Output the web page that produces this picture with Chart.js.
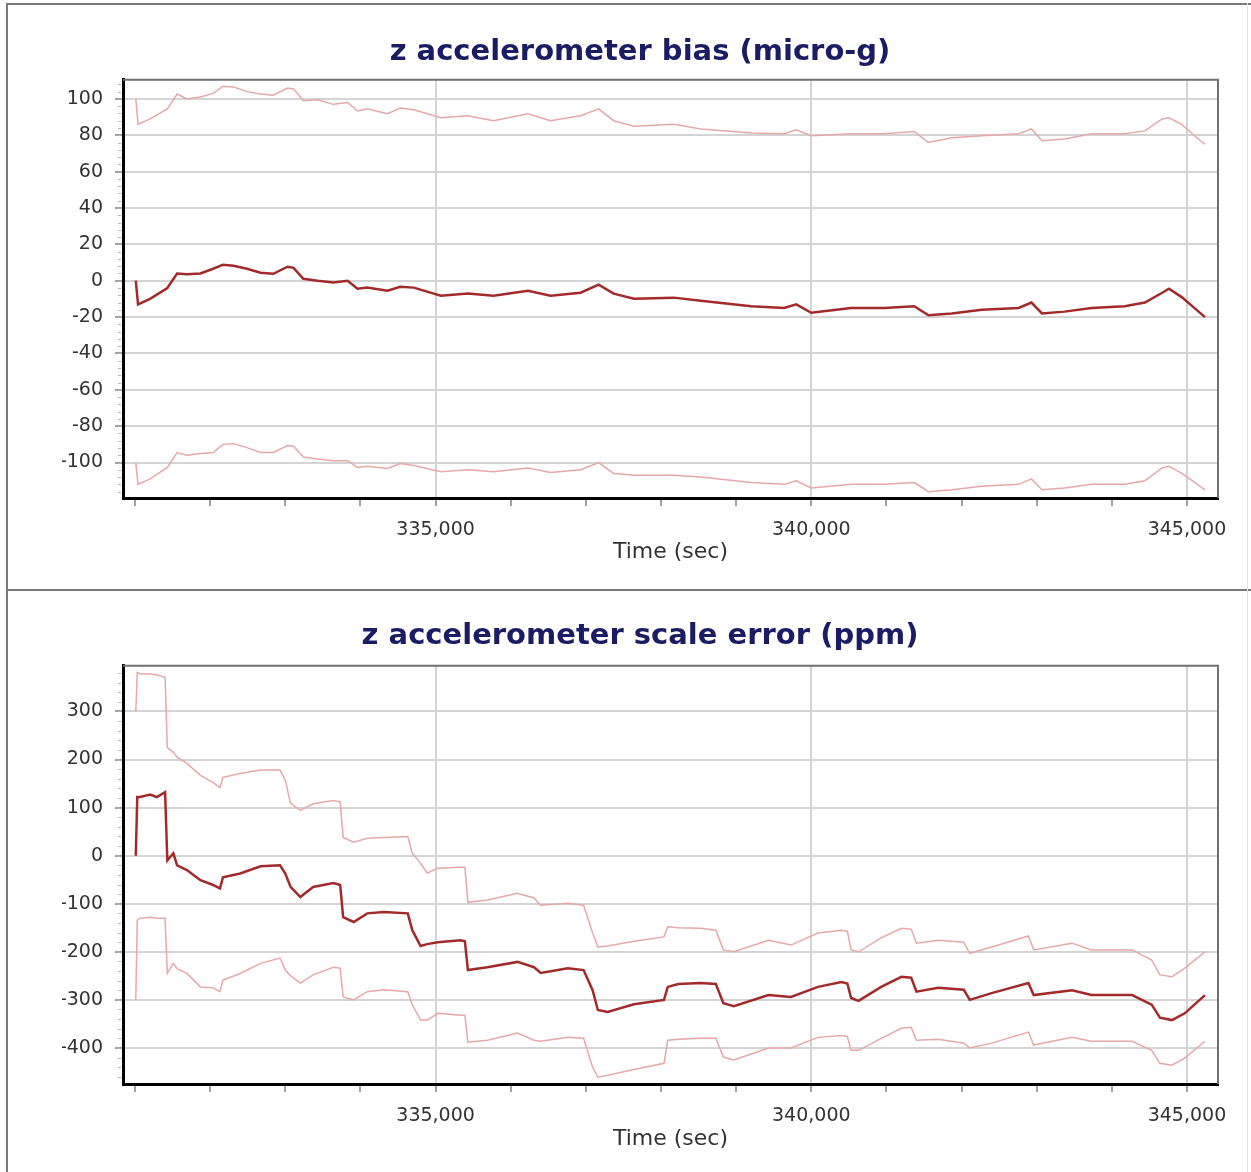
<!DOCTYPE html>
<html>
<head>
<meta charset="utf-8">
<script src="https://cdn.jsdelivr.net/npm/chart.js@4.4.1/dist/chart.umd.min.js"></script>
<style>
    body { margin: 0; background: #fff; }
    #wrap { position: relative; width: 1251px; height: 1172px; overflow: hidden; }
    #wrap canvas { position: absolute; left: 0; }
    .rule { position: absolute; background: #7a7a7a; }
</style>
</head>
<body>
<div id="wrap">
    <canvas id="biasChart" width="1251" height="590" style="top:0"></canvas>
    <canvas id="scaleChart" width="1251" height="580" style="top:592px"></canvas>
    <div class="rule" style="left:6px;top:3px;width:1245px;height:2px"></div>
    <div class="rule" style="left:6px;top:589px;width:1245px;height:2px"></div>
    <div class="rule" style="left:6px;top:3px;width:2px;height:1169px"></div>
    <div class="rule" style="left:1247px;top:3px;width:1px;height:1169px;background:#e4e4e4"></div>
</div>
<script>
// z accelerometer bias (micro-g)
const biasTime = [331010, 331040, 331200, 331430, 331560, 331690, 331870, 332040, 332170, 332310,
    332490, 332670, 332840, 333030, 333110, 333240, 333430, 333640, 333830, 333960,
    334090, 334360, 334530, 334710, 335070, 335430, 335770, 336230, 336530, 336930,
    337170, 337370, 337640, 338170, 338530, 339200, 339640, 339800, 340000, 340530,
    340970, 341370, 341560, 341870, 342270, 342760, 342930, 343070, 343370, 343730,
    344170, 344440, 344670, 344760, 344930, 345070, 345240];
const biasMid = [0, -13, -10, -4, 4, 3.5, 4, 6.6, 8.8, 8.2,
    6.6, 4.4, 3.8, 7.7, 7.1, 1.1, 0, -1, 0, -4.4,
    -3.8, -5.5, -3.3, -3.8, -8.2, -7.1, -8.2, -5.5, -8.2, -6.6,
    -2.2, -7.1, -9.9, -9.3, -11, -14, -15, -13, -17.6, -15,
    -15, -14, -19, -18, -16, -15, -12, -18, -17, -15,
    -14, -12, -6.6, -4.4, -9, -14, -20];
const biasHigh = [100, 86, 89, 94.5, 102.7, 100, 101, 103, 107, 106.6,
    104, 102.7, 102, 106, 105.5, 99, 99.5, 97, 98, 93.4,
    94.5, 91.8, 95, 94, 89.6, 90.7, 88, 91.8, 88, 90.7,
    94.5, 88, 85, 86, 83.5, 81.3, 80.8, 83, 79.7, 80.8,
    80.8, 82, 76, 78.6, 79.7, 80.8, 83.5, 77, 78, 80.8,
    80.8, 82.4, 89, 89.6, 86, 80.8, 75];
const biasLow = [-100, -112, -109, -102.7, -94.5, -96, -95, -94.5, -90, -89.6,
    -91.8, -94.5, -94.5, -90.7, -91, -97, -98, -99, -99, -102.7,
    -102, -103.3, -100.5, -101.6, -105, -104, -105, -103, -105.5, -104,
    -100, -106, -107, -107, -108, -111, -112, -110, -114, -112,
    -112, -111, -116, -115, -113, -112, -109, -115, -114, -112,
    -112, -110, -103, -102, -106, -110, -115];
const biasTicks = [-100, -80, -60, -40, -20, 0, 20, 40, 60, 80, 100];

// z accelerometer scale error (ppm)
const scaleTime = [331010, 331030, 331070, 331200, 331290, 331400, 331430, 331510, 331560, 331690,
    331870, 332040, 332130, 332170, 332400, 332670, 332930, 333000, 333070, 333200,
    333370, 333640, 333730, 333770, 333910, 334090, 334310, 334630, 334690, 334800,
    334890, 335030, 335330, 335390, 335430, 335690, 336090, 336310, 336400, 336760,
    336970, 337090, 337160, 337290, 337640, 338040, 338090, 338230, 338530, 338730,
    338830, 338970, 339430, 339730, 340090, 340400, 340480, 340530, 340630, 340930,
    341200, 341330, 341400, 341690, 342030, 342110, 342400, 342890, 342960, 343470,
    343730, 344270, 344530, 344640, 344800, 344970, 345240];
const scaleMid = [0, 122, 122, 127, 122, 132, -10, 5, -20, -30,
    -51, -61, -68, -45, -37, -22, -20, -37, -65, -86,
    -65, -57, -61, -128, -138, -120, -117, -120, -155, -188,
    -184, -180, -176, -178, -238, -232, -221, -232, -244, -234,
    -238, -280, -321, -325, -309, -300, -273, -267, -265, -267,
    -307, -313, -290, -294, -273, -263, -266, -296, -302, -273,
    -252, -254, -283, -275, -279, -300, -286, -265, -290, -280,
    -290, -290, -310, -337, -342, -328, -290];
const scaleHigh = [300, 381, 378, 378, 376, 371, 225, 215, 205, 192,
    167, 152, 142, 163, 171, 178, 178, 157, 109, 94,
    108, 115, 112, 38, 28, 36, 38, 40, 5, -16,
    -36, -26, -24, -24, -97, -92, -78, -88, -103, -99,
    -103, -161, -190, -188, -178, -169, -148, -150, -151, -155,
    -196, -200, -176, -186, -161, -155, -157, -196, -200, -171,
    -151, -153, -182, -176, -180, -203, -190, -167, -196, -182,
    -196, -196, -217, -248, -252, -234, -200];
const scaleLow = [-300, -134, -130, -128, -130, -130, -245, -224, -235, -245,
    -273, -275, -283, -259, -245, -224, -213, -238, -250, -265,
    -248, -232, -234, -294, -300, -283, -279, -283, -310, -342,
    -342, -328, -332, -332, -388, -384, -369, -384, -386, -378,
    -380, -440, -461, -457, -445, -432, -384, -382, -380, -380,
    -419, -425, -400, -400, -378, -374, -376, -405, -405, -380,
    -359, -357, -384, -382, -390, -400, -390, -367, -394, -378,
    -386, -386, -405, -432, -436, -421, -386];
const scaleTicks = [-400, -300, -200, -100, 0, 100, 200, 300];

// time axis: a tick every 1000 s, labelled every 5000 s
const timeTicks = [331000, 332000, 333000, 334000, 335000, 336000, 337000, 338000,
    339000, 340000, 341000, 342000, 343000, 344000, 345000];
const timeLabels = [335000, 340000, 345000];

const xMin = 330840, xMax = 345413;
const midColor = '#a32a2a';
const bandColor = '#e6a8a8';
const gridColor = '#d4d4d4';
const textColor = '#333333';

function toPoints(times, values) {
    return times.map((t, i) => ({ x: t, y: values[i] }));
}

function setTicks(values) {
    return (scale) => { scale.ticks = values.map((v) => ({ value: v })); };
}

// short minor ticks on the y axis plus the grey top/right frame
const framePlugin = {
    id: 'frame',
    afterDraw(chart, args, opts) {
        const { ctx, chartArea: a, scales: { y } } = chart;
        ctx.save();
        ctx.strokeStyle = '#b4b4b4';
        ctx.lineWidth = 1;
        for (let v = Math.ceil(y.min / opts.minor) * opts.minor; v <= y.max; v += opts.minor) {
            const py = Math.round(y.getPixelForValue(v)) + 0.5;
            ctx.beginPath();
            ctx.moveTo(a.left - 5, py);
            ctx.lineTo(a.left - 2, py);
            ctx.stroke();
        }
        ctx.strokeStyle = '#707070';
        ctx.lineWidth = 2;
        ctx.beginPath();
        ctx.moveTo(a.left, a.top);
        ctx.lineTo(a.right, a.top);
        ctx.lineTo(a.right, a.bottom);
        ctx.stroke();
        ctx.restore();
    }
};

function makeChart(id, cfg) {
    return new Chart(document.getElementById(id), {
        type: 'line',
        data: {
            datasets: [
                { data: toPoints(cfg.time, cfg.mid), borderColor: midColor, borderWidth: 2.5 },
                { data: toPoints(cfg.time, cfg.high), borderColor: bandColor, borderWidth: 1.5 },
                { data: toPoints(cfg.time, cfg.low), borderColor: bandColor, borderWidth: 1.5 }
            ]
        },
        options: {
            responsive: false,
            animation: false,
            events: [],
            elements: { point: { radius: 0 }, line: { tension: 0 } },
            layout: { padding: { top: cfg.padTop, right: 33, bottom: 0, left: 62 } },
            plugins: {
                legend: { display: false },
                tooltip: { enabled: false },
                title: {
                    display: true,
                    text: cfg.title,
                    color: '#1c1c64',
                    font: { family: 'DejaVu Sans', size: 29, weight: 'bold' },
                    padding: { top: 15, bottom: cfg.titleGap }
                },
                frame: { minor: cfg.minor }
            },
            scales: {
                x: {
                    type: 'linear',
                    min: xMin,
                    max: xMax,
                    afterBuildTicks: setTicks(timeTicks),
                    afterFit: (s) => { s.height = cfg.xHeight; },
                    border: { color: '#000', width: 3 },
                    grid: {
                        color: (c) => (c.tick && timeLabels.includes(c.tick.value) ? gridColor : 'rgba(0,0,0,0)'),
                        lineWidth: 2,
                        tickColor: '#a0a0a0',
                        tickLength: 8
                    },
                    ticks: {
                        autoSkip: false,
                        maxRotation: 0,
                        padding: 13,
                        color: textColor,
                        font: { family: 'DejaVu Sans', size: 19 },
                        callback: (v) => (timeLabels.includes(v) ? v.toLocaleString('en-US') : '')
                    },
                    title: {
                        display: true,
                        text: 'Time (sec)',
                        color: textColor,
                        font: { family: 'DejaVu Sans', size: 22 },
                        padding: { top: 0, bottom: cfg.xTitleGap }
                    }
                },
                y: {
                    min: cfg.yMin,
                    max: cfg.yMax,
                    afterBuildTicks: setTicks(cfg.ticks),
                    afterFit: (s) => { s.width = 61; },
                    border: { color: '#000', width: 3 },
                    grid: { color: gridColor, lineWidth: 2, tickColor: '#a0a0a0', tickLength: 8 },
                    ticks: {
                        padding: 12,
                        color: textColor,
                        font: { family: 'DejaVu Sans', size: 19 }
                    }
                }
            }
        },
        plugins: [framePlugin]
    });
}

makeChart('biasChart', {
    title: 'z accelerometer bias (micro-g)',
    time: biasTime, mid: biasMid, high: biasHigh, low: biasLow, ticks: biasTicks,
    yMin: -119.5, yMax: 110.5, minor: 4,
    padTop: 20, titleGap: 10, xHeight: 92, xTitleGap: 25
});

makeChart('scaleChart', {
    title: 'z accelerometer scale error (ppm)',
    time: scaleTime, mid: scaleMid, high: scaleHigh, low: scaleLow, ticks: scaleTicks,
    yMin: -475, yMax: 395, minor: 20,
    padTop: 12, titleGap: 12, xHeight: 88, xTitleGap: 20
});
</script>
</body>
</html>
